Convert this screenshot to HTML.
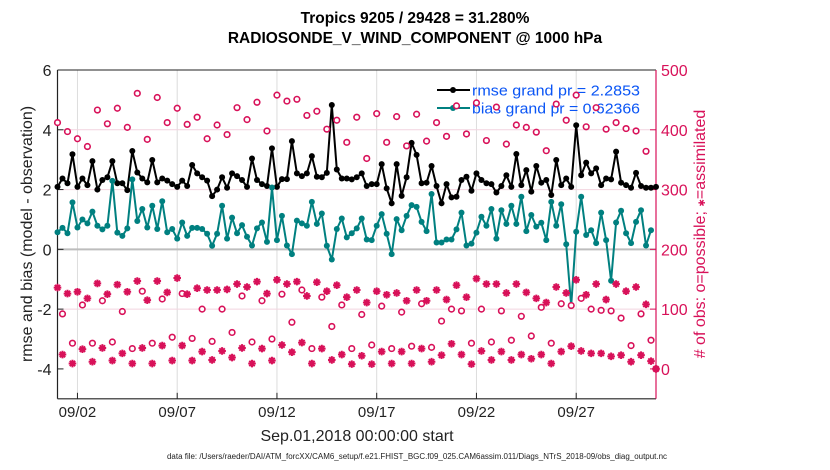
<!DOCTYPE html>
<html><head><meta charset="utf-8"><style>
html,body{margin:0;padding:0;background:#fff;}
svg{display:block;font-family:"Liberation Sans",Arial,sans-serif;}
</style></head><body>
<svg id="chart" width="830" height="470" viewBox="0 0 830 470" xmlns="http://www.w3.org/2000/svg">
<g id="grid"></g>
<g id="axes"></g>
<g id="series"></g>
<g id="legend">
  <line x1="437" y1="90" x2="470" y2="90" stroke="#000" stroke-width="2"/>
  <circle cx="453" cy="90" r="3" fill="#000"/>
  <line x1="437" y1="108" x2="470" y2="108" stroke="#008080" stroke-width="2"/>
  <circle cx="453" cy="108" r="3" fill="#008080"/>
  <text x="472" y="95.5" font-size="15" fill="#0a55f5" textLength="168" lengthAdjust="spacingAndGlyphs">rmse grand pr = 2.2853</text>
  <text x="472" y="113.5" font-size="15" fill="#0a55f5" textLength="168" lengthAdjust="spacingAndGlyphs">bias grand pr = 0.62366</text>
</g>
<g id="markers"></g>
<text x="415" y="23" font-size="15.5" font-weight="bold" text-anchor="middle">Tropics 9205 / 29428 = 31.280%</text>
<text x="415" y="43" font-size="15.5" font-weight="bold" text-anchor="middle">RADIOSONDE_V_WIND_COMPONENT @ 1000 hPa</text>
<text transform="translate(32,234) rotate(-90)" font-size="16" text-anchor="middle" fill="#222">rmse and bias (model - observation)</text>
<text transform="translate(705,234) rotate(-90)" font-size="16" text-anchor="middle" fill="#d81159"># of obs: o=possible; <tspan font-size="9">✱</tspan>=assimilated</text>
<text x="357" y="441" font-size="16" text-anchor="middle" fill="#222">Sep.01,2018 00:00:00 start</text>
<text x="417" y="459" font-size="8" text-anchor="middle" fill="#222" textLength="500" lengthAdjust="spacingAndGlyphs">data file: /Users/raeder/DAI/ATM_forcXX/CAM6_setup/f.e21.FHIST_BGC.f09_025.CAM6assim.011/Diags_NTrS_2018-09/obs_diag_output.nc</text>
</svg>
<script>
const rmse=[2.09,2.37,2.21,3.18,2.09,2.37,2.15,2.95,2.0,2.32,2.41,2.95,2.21,2.21,1.98,3.29,2.57,2.37,2.24,2.99,2.24,2.37,2.30,2.18,2.09,2.30,2.12,2.82,2.54,2.41,2.30,1.78,2.0,2.41,2.06,2.54,2.45,2.32,2.09,
3.04,2.32,2.18,2.12,3.38,2.09,2.35,2.35,3.62,2.54,2.45,2.54,3.12,2.43,2.41,2.56,4.83,2.67,2.37,2.37,2.34,2.41,2.54,2.12,2.18,2.18,2.85,2.04,1.54,2.85,1.79,2.41,3.56,3.16,2.21,2.23,2.79,2.12,1.54,2.18,1.74,
1.76,2.32,2.43,1.96,2.54,2.32,2.21,2.18,1.90,2.12,2.48,2.09,3.19,2.15,2.65,1.93,2.79,2.23,2.32,1.82,2.99,2.15,2.37,2.09,4.15,2.48,2.90,2.54,2.71,2.15,2.37,2.34,3.27,2.23,2.15,2.06,2.56,2.12,2.06,2.06,2.09];
const bias=[0.57,0.72,0.54,1.57,0.73,1.0,0.87,1.26,0.79,0.67,0.79,2.29,0.56,0.45,0.70,2.34,0.95,1.35,0.73,1.46,0.68,1.61,0.57,0.68,0.36,0.90,0.45,0.72,0.72,0.68,0.52,0.12,0.52,1.46,0.36,1.06,0.54,0.81,0.42,
0.13,0.70,0.90,0.25,2.07,0.31,1.12,0.13,-0.16,0.96,0.87,0.79,1.59,0.85,1.20,0.12,-0.34,0.68,1.03,0.40,0.54,0.70,1.03,0.33,0.31,0.79,1.18,0.52,-0.16,1.01,0.64,1.12,1.48,1.42,0.92,0.61,1.85,0.23,0.23,0.33,
0.33,0.67,1.23,0.13,0.19,0.56,1.09,0.79,1.35,0.36,1.31,0.85,1.46,0.85,1.76,0.61,1.15,0.76,0.89,0.31,1.59,0.79,1.51,0.17,-1.89,0.59,1.76,0.48,0.64,0.21,1.23,0.31,-1.05,0.90,1.29,0.54,0.21,0.92,1.31,0.13,0.64];
const possible=[412,92,397,43,385,107,372,43,433,114,410,45,436,96,404,34,461,130,384,43,454,117,412,53,436,126,409,51,421,100,385,46,408,100,392,61,437,122,417,45,
446,114,398,50,458,125,448,78,451,132,424,34,431,120,401,71,416,107,379,34,421,91,352,40,427,105,379,34,422,95,373,38,426,109,381,36,412,80,389,100,
440,97,393,43,445,100,382,45,438,97,376,48,408,88,404,55,396,103,365,43,443,109,416,106,458,118,405,100,437,98,401,97,412,85,402,39,398,92,364,48,0];
const assimilated=[136,24,126,9,129,33,118,12,143,35,125,14,141,26,129,9,147,35,115,9,147,39,128,14,152,39,125,14,135,29,132,15,132,30,133,19,142,35,137,9,
146,34,126,14,149,40,142,28,146,44,122,9,145,34,130,15,140,24,120,8,132,22,111,8,130,29,124,9,127,29,114,9,132,34,114,12,132,23,116,42,
140,24,120,8,151,30,142,15,142,29,127,15,142,24,128,17,118,24,111,9,137,29,127,38,149,30,124,26,142,26,116,21,142,23,130,12,137,23,108,13,0];
const xTickDays=[1,6,11,16,21,26];
const xTickLabels=["09/02","09/07","09/12","09/17","09/22","09/27"];
const yTicks=[-4,-2,0,2,4,6];
const y2Ticks=[0,100,200,300,400,500];

const NS="http://www.w3.org/2000/svg";
const L=57.5,R=656,T=70,B=398.8;
const xS=d=>L+(d/30)*(R-L);
const yS=v=>T+(6-v)/11*(B-T);
const y2S=n=>yS(n/50-4);
const tStep=0.25;
function mk(tag,attrs,parent){const e=document.createElementNS(NS,tag);for(const k in attrs)e.setAttribute(k,attrs[k]);parent.appendChild(e);return e;}
const grid=document.getElementById('grid'),axes=document.getElementById('axes'),series=document.getElementById('series'),markers=document.getElementById('markers');

xTickDays.forEach((d,i)=>{
  const x=xS(d);
  const g=mk('line',{x1:x,y1:T,x2:x,y2:B,stroke:'#dcdcdc','stroke-width':1},grid);
  
  
  mk('line',{x1:x,y1:B,x2:x,y2:B-6,stroke:'#222','stroke-width':1},axes);
  const t=mk('text',{x:x,y:417,'font-size':15,'text-anchor':'middle',fill:'#222'},axes);
  t.textContent=xTickLabels[i];
  
  
});
y2Ticks.forEach(n=>{
  const y=y2S(n);
  if(n>0&&n<500){const g=mk('line',{x1:L,y1:y,x2:R,y2:y,stroke:'#f2d4df','stroke-width':1},grid);
  
  }
  mk('line',{x1:R,y1:y,x2:R-6,y2:y,stroke:'#d81159','stroke-width':1},axes);
  const t=mk('text',{x:R+5,y:y+6,'font-size':16,fill:'#d81159'},axes);
  t.textContent=String(n);
  
  
});
const z=mk('line',{x1:L,y1:yS(0),x2:R,y2:yS(0),stroke:'#bdbdbd','stroke-width':2},grid);


yTicks.forEach(v=>{
  const y=yS(v);
  mk('line',{x1:L,y1:y,x2:L+6,y2:y,stroke:'#222','stroke-width':1},axes);
  const t=mk('text',{x:L-6,y:y+6,'font-size':16,'text-anchor':'end',fill:'#222'},axes);
  t.textContent=String(v);
  
  
});
mk('line',{x1:L,y1:T,x2:R,y2:T,stroke:'#222','stroke-width':1},axes);
mk('line',{x1:L,y1:B,x2:R,y2:B,stroke:'#222','stroke-width':1.2},axes);
mk('line',{x1:L,y1:T,x2:L,y2:B,stroke:'#222','stroke-width':1.2},axes);
mk('line',{x1:R,y1:T,x2:R,y2:B,stroke:'#d81159','stroke-width':1.2},axes);

function drawLine(vals,color,name){
  const pts=vals.map((v,i)=>xS(i*tStep).toFixed(1)+','+yS(v).toFixed(1)).join(' ');
  const p=mk('polyline',{points:pts,fill:'none',stroke:color,'stroke-width':2,'stroke-linejoin':'round'},series);
  
  
  vals.forEach((v,i)=>{
    const c=mk('circle',{cx:xS(i*tStep),cy:yS(v),r:3,fill:color},series);
    
    
  });
}
drawLine(rmse,'#000','rmse');
drawLine(bias,'#008080','bias');

possible.forEach((n,i)=>{
  const c=mk('circle',{cx:xS(i*tStep),cy:y2S(n),r:2.8,fill:'#fff',stroke:'#d81159','stroke-width':1.6},markers);
  
  
});
assimilated.forEach((n,i)=>{
  const x=xS(i*tStep),y=y2S(n),s=3.8,d=2.7;
  const g=mk('path',{d:`M${x-s},${y}H${x+s}M${x},${y-s}V${y+s}M${x-d},${y-d}L${x+d},${y+d}M${x-d},${y+d}L${x+d},${y-d}`,stroke:'#d81159','stroke-width':2,fill:'none'},markers);
  
  
});
</script>
</body></html>
